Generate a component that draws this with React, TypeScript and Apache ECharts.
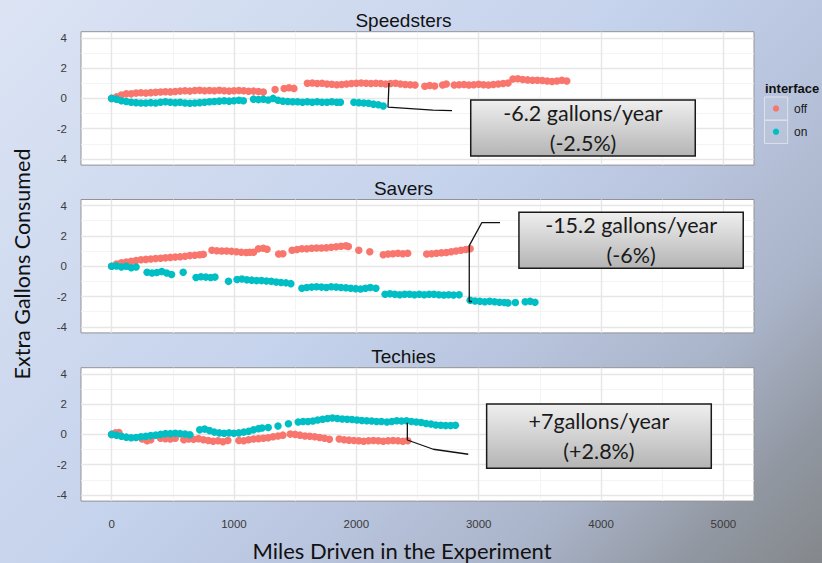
import { useEffect, useRef } from "react";
import * as echarts from "echarts";

// ---------- data ----------
const panelNames = ["Speedsters", "Savers", "Techies"];
const groupNames = ["off", "on"];
const groupColors = ["#F8766D", "#00BFC4"];
const xTicks = [0, 1000, 2000, 3000, 4000, 5000];
const xMinor = [500, 1500, 2500, 3500, 4500];
const yTicks = [-4, -2, 0, 2, 4];
const yMinor = [-3, -1, 1, 3];
const xTitle = "Miles Driven in the Experiment";
const yTitle = "Extra Gallons Consumed";
const legendTitle = "interface";

const speedstersOff: [number, number][] = [
  [0, 0], [40, 0.1], [80, 0.22], [120, 0.3], [160, 0.3], [200, 0.35], [240, 0.37], [280, 0.35], [320, 0.38], [360, 0.4],
  [400, 0.42], [440, 0.44], [480, 0.43], [520, 0.46], [560, 0.48], [600, 0.5], [640, 0.48], [680, 0.52], [720, 0.53], [760, 0.5],
  [800, 0.52], [840, 0.5], [880, 0.53], [920, 0.5], [960, 0.48], [1000, 0.5], [1040, 0.52], [1080, 0.5], [1120, 0.47], [1160, 0.48],
  [1200, 0.45], [1240, 0.42],
  [1336, 0.58],
  [1410, 0.65], [1450, 0.7], [1490, 0.66],
  [1600, 1.0], [1640, 1.02], [1680, 0.98], [1720, 1.0], [1760, 0.95], [1800, 0.93], [1840, 0.9], [1880, 0.92], [1920, 0.95], [1960, 0.98],
  [2000, 1.0], [2040, 1.02], [2080, 1.0], [2120, 0.98], [2160, 1.0], [2200, 0.98], [2240, 0.95], [2280, 0.98], [2320, 1.0], [2360, 0.95],
  [2400, 0.92], [2440, 0.9], [2480, 0.88],
  [2560, 0.8], [2600, 0.85], [2640, 0.82],
  [2705, 0.88], [2735, 0.95],
  [2800, 0.88], [2840, 0.9], [2880, 0.92], [2920, 0.88], [2960, 0.9], [3000, 0.93], [3040, 0.9], [3080, 0.88], [3120, 0.92], [3160, 0.95],
  [3200, 0.98], [3240, 1.02],
  [3280, 1.28], [3320, 1.3], [3360, 1.25], [3400, 1.22], [3440, 1.2], [3480, 1.2], [3520, 1.18], [3560, 1.15], [3600, 1.12], [3640, 1.15],
  [3680, 1.2], [3720, 1.15],
];

const speedstersOn: [number, number][] = [
  [0, 0], [40, -0.05], [80, -0.15], [120, -0.2], [160, -0.25], [200, -0.28], [240, -0.3], [280, -0.3], [320, -0.28], [360, -0.3],
  [400, -0.25], [440, -0.22], [480, -0.25], [520, -0.28], [560, -0.25], [600, -0.3], [640, -0.32], [680, -0.3], [720, -0.28], [760, -0.25],
  [800, -0.22], [840, -0.2], [880, -0.18], [920, -0.15], [960, -0.18], [1000, -0.15], [1040, -0.12],
  [1077, -0.15],
  [1160, -0.05], [1200, -0.08], [1240, -0.05], [1280, -0.1], [1320, 0.0], [1360, -0.12], [1400, -0.18], [1440, -0.2], [1480, -0.22], [1520, -0.22],
  [1560, -0.25], [1600, -0.22], [1640, -0.25], [1680, -0.22], [1720, -0.25], [1760, -0.25], [1800, -0.22], [1840, -0.25], [1870, -0.25],
  [1980, -0.25], [2020, -0.28], [2060, -0.3], [2100, -0.32], [2140, -0.38], [2180, -0.42], [2220, -0.5],
];

const saversOff: [number, number][] = [
  [0, 0.0], [40, 0.15], [80, 0.22], [120, 0.28], [160, 0.33], [200, 0.38], [240, 0.42], [280, 0.45], [320, 0.48], [360, 0.5],
  [400, 0.52], [440, 0.55], [480, 0.58], [520, 0.6], [560, 0.62], [600, 0.66], [640, 0.7], [680, 0.72], [720, 0.75], [750, 0.78],
  [820, 1.05], [860, 1.02], [900, 1.0], [940, 1.0], [980, 0.98], [1020, 0.95], [1060, 0.92],
  [1100, 0.9], [1130, 0.92], [1160, 0.92],
  [1200, 1.15], [1240, 1.18], [1270, 1.12],
  [1365, 0.8], [1400, 0.82],
  [1475, 1.05], [1515, 1.1], [1555, 1.15], [1595, 1.15], [1635, 1.18], [1675, 1.2], [1715, 1.2], [1755, 1.22], [1795, 1.25], [1835, 1.28],
  [1875, 1.32], [1915, 1.35], [1935, 1.3],
  [2020, 1.05], [2110, 0.95],
  [2220, 0.75], [2260, 0.8], [2300, 0.82], [2340, 0.85], [2380, 0.82], [2420, 0.85],
  [2575, 0.8], [2615, 0.82], [2655, 0.85], [2695, 0.88], [2735, 0.9], [2775, 0.95], [2815, 1.0], [2855, 1.05], [2895, 1.1], [2930, 1.15],
];

const saversOn: [number, number][] = [
  [0, 0.0], [40, 0.02], [80, -0.05], [120, 0.0], [160, -0.1], [200, -0.05],
  [290, -0.4], [330, -0.45], [370, -0.42], [410, -0.35], [450, -0.45], [490, -0.55],
  [585, -0.4],
  [690, -0.75], [730, -0.7], [770, -0.72], [810, -0.75], [845, -0.72],
  [955, -1.0],
  [1025, -0.88], [1065, -0.85], [1105, -0.9], [1145, -0.92], [1185, -0.95], [1225, -0.95], [1265, -0.98], [1305, -1.0], [1345, -1.05], [1385, -1.08],
  [1425, -1.1], [1465, -1.15],
  [1555, -1.45], [1595, -1.4], [1635, -1.38], [1675, -1.35], [1715, -1.38], [1755, -1.4], [1795, -1.35], [1835, -1.38], [1875, -1.4], [1915, -1.42],
  [1955, -1.45], [1995, -1.48], [2035, -1.5], [2075, -1.45], [2115, -1.4], [2160, -1.45],
  [2235, -1.85], [2275, -1.82], [2315, -1.85], [2355, -1.88], [2395, -1.85], [2435, -1.85], [2475, -1.88], [2515, -1.85], [2555, -1.88], [2595, -1.85],
  [2635, -1.85], [2675, -1.88], [2715, -1.9], [2755, -1.88], [2795, -1.9], [2840, -1.88],
  [2930, -2.25], [2970, -2.3], [3010, -2.32], [3050, -2.35], [3090, -2.32], [3130, -2.35], [3170, -2.38], [3210, -2.4], [3240, -2.42],
  [3300, -2.4],
  [3380, -2.35], [3420, -2.32], [3460, -2.38],
];

const techiesOff: [number, number][] = [
  [0, 0.0], [30, 0.1], [60, 0.12],
  [250, -0.3], [290, -0.42], [320, -0.35],
  [400, -0.25], [440, -0.28], [480, -0.3], [520, -0.25],
  [590, -0.35], [630, -0.3], [670, -0.32], [710, -0.28], [750, -0.35], [790, -0.4], [830, -0.45], [870, -0.42], [910, -0.48], [950, -0.4],
  [1040, -0.4], [1080, -0.42], [1120, -0.35], [1160, -0.3], [1200, -0.28], [1240, -0.25], [1280, -0.22], [1320, -0.15], [1360, -0.1], [1400, -0.05],
  [1460, 0.02], [1500, 0.0], [1540, -0.05], [1580, -0.1], [1620, -0.12], [1660, -0.15], [1700, -0.2], [1740, -0.25], [1780, -0.32],
  [1860, -0.3], [1900, -0.35], [1940, -0.38], [1980, -0.4], [2020, -0.42], [2060, -0.45], [2100, -0.42], [2140, -0.4], [2180, -0.42], [2220, -0.45],
  [2260, -0.42], [2300, -0.4], [2340, -0.42], [2380, -0.45], [2420, -0.42],
];

const techiesOn: [number, number][] = [
  [0, 0.0], [40, -0.05], [80, -0.12], [120, -0.18], [160, -0.22], [200, -0.2], [240, -0.15], [280, -0.12], [320, -0.08], [360, -0.05],
  [400, 0.0], [440, 0.05], [480, 0.05], [520, 0.08], [560, 0.05], [600, 0.02], [640, -0.02],
  [720, 0.3], [760, 0.35], [800, 0.25], [840, 0.15], [880, 0.1], [920, 0.08], [960, 0.1], [1000, 0.08], [1040, 0.1], [1080, 0.15],
  [1120, 0.2], [1160, 0.3], [1200, 0.38], [1230, 0.42],
  [1280, 0.45], [1360, 0.55], [1445, 0.7],
  [1525, 0.82], [1565, 0.85], [1605, 0.85], [1645, 0.88], [1685, 0.95], [1725, 1.0], [1765, 1.05], [1805, 1.08], [1845, 1.05], [1885, 1.02],
  [1925, 1.0], [1965, 0.98], [2005, 0.95], [2045, 0.92], [2085, 0.9], [2125, 0.88], [2165, 0.85], [2205, 0.85], [2250, 0.82],
  [2290, 0.85], [2330, 0.9], [2370, 0.88], [2410, 0.9], [2450, 0.85], [2490, 0.82], [2530, 0.78], [2570, 0.72], [2610, 0.68], [2650, 0.62],
  [2690, 0.6], [2730, 0.58], [2770, 0.58], [2810, 0.6],
];

const panelData = [
  [speedstersOff, speedstersOn],
  [saversOff, saversOn],
  [techiesOff, techiesOn],
];

const annotationTexts = [
  "-6.2 gallons/year\n(-2.5%)",
  "-15.2 gallons/year\n(-6%)",
  "+7gallons/year\n(+2.8%)",
];

// ---------- layout (data-coordinate placements of callouts) ----------
const boxCorners: [number, number][][] = [
  [[2935, -0.11], [4770, -3.8]],
  [[3329, 3.56], [5162, -0.13]],
  [[3065, 2.0], [4901, -2.23]],
];
const leaderPaths: [number, number][][] = [
  [[2267, 1.01], [2259, -0.57], [2626, -0.77], [2782, -0.81]],
  [[3174, 2.87], [3025, 2.87], [2923, 1.36], [2923, -2.33], [2945, -2.33]],
  [[2417, 0.77], [2417, -0.37], [2629, -0.98], [2915, -1.31]],
];

const GRID_LEFT = 81;
const GRID_WIDTH = 673;
const GRID_TOPS = [31.7, 199.5, 367.7];
const GRID_HEIGHT = 133.4;
const X_MIN = -250;
const X_MAX = 5250;
const Y_MIN = -4.4;
const Y_MAX = 4.4;

const TICK_FONT = "'Liberation Sans', Arial, sans-serif";
const TITLE_FONT = "Lato, 'Open Sans', sans-serif";

export default function App() {
  const ref = useRef<HTMLDivElement>(null);

  useEffect(() => {
    if (!ref.current) return;
    const chart = echarts.init(ref.current, undefined, { renderer: "svg" });

    const major = { color: "#e6e6e6", width: 1.4, type: "solid" as const };
    const minor = { color: "#f3f3f3", width: 0.9, type: "solid" as const };

    const gridLines = [
      ...xMinor.map((v) => ({ xAxis: v, lineStyle: minor })),
      ...yMinor.map((v) => ({ yAxis: v, lineStyle: minor })),
      ...xTicks.map((v) => ({ xAxis: v, lineStyle: major })),
      ...yTicks.map((v) => ({ yAxis: v, lineStyle: major })),
    ];

    const grids = GRID_TOPS.map((top) => ({
      left: GRID_LEFT,
      top,
      width: GRID_WIDTH,
      height: GRID_HEIGHT,
      show: true,
      backgroundColor: "#ffffff",
      borderColor: "#939393",
      borderWidth: 1,
      containLabel: false,
      outerBoundsMode: "none",
    }));

    const plain = (v: number) => String(v);

    const xAxes = GRID_TOPS.map((_, i) => ({
      type: "value",
      gridIndex: i,
      min: X_MIN,
      max: X_MAX,
      axisLine: { show: false },
      splitLine: { show: false },
      axisTick: {
        show: true,
        customValues: xTicks,
        length: 7,
        lineStyle: { color: "#333333", width: 1 },
      },
      axisLabel: {
        show: i === 2,
        customValues: xTicks,
        formatter: plain,
        margin: 17,
        color: "#3a3a3a",
        fontSize: 11.5,
        fontFamily: TICK_FONT,
      },
    }));

    const yAxes = GRID_TOPS.map((_, i) => ({
      type: "value",
      gridIndex: i,
      min: Y_MIN,
      max: Y_MAX,
      axisLine: { show: false },
      splitLine: { show: false },
      axisTick: {
        show: true,
        customValues: yTicks,
        length: 7,
        lineStyle: { color: "#333333", width: 1 },
      },
      axisLabel: {
        show: true,
        customValues: yTicks,
        formatter: plain,
        margin: 14,
        color: "#3a3a3a",
        fontSize: 11.5,
        fontFamily: TICK_FONT,
      },
    }));

    const boxFill = new echarts.graphic.LinearGradient(0, 0, 0, 1, [
      { offset: 0, color: "#efefef" },
      { offset: 1, color: "#b4b4b4" },
    ]);

    const series: any[] = [];
    panelData.forEach((groups, p) => {
      groups.forEach((pts, g) => {
        series.push({
          type: "scatter",
          name: groupNames[g],
          xAxisIndex: p,
          yAxisIndex: p,
          data: pts,
          symbol: "circle",
          symbolSize: 7.5,
          itemStyle: { color: groupColors[g], opacity: 1 },
          z: 3,
          silent: true,
          ...(g === 0
            ? {
                markLine: {
                  silent: true,
                  symbol: "none",
                  z: 1,
                  label: { show: false },
                  animation: false,
                  data: gridLines,
                },
              }
            : {}),
        });
      });
      series.push({
        type: "line",
        xAxisIndex: p,
        yAxisIndex: p,
        data: leaderPaths[p],
        showSymbol: false,
        symbol: "none",
        silent: true,
        z: 5,
        lineStyle: { color: "#111111", width: 1.3 },
        markArea: {
          silent: true,
          z: 4,
          animation: false,
          itemStyle: {
            color: boxFill,
            borderColor: "#1a1a1a",
            borderWidth: 1.5,
          },
          label: {
            show: true,
            position: "inside",
            formatter: annotationTexts[p],
            color: "#1a1a1a",
            fontFamily: TITLE_FONT,
            fontSize: 21.5,
            lineHeight: 30,
          },
          data: [[{ coord: boxCorners[p][0] }, { coord: boxCorners[p][1] }]],
        },
      });
    });

    const graphics: any[] = [];
    panelNames.forEach((name, i) => {
      graphics.push({
        type: "text",
        x: 403.5,
        y: GRID_TOPS[i] - 11.5,
        style: {
          text: name,
          fill: "#111111",
          font: `19px ${TICK_FONT}`,
          align: "center",
          verticalAlign: "middle",
          textAlign: "center",
          textVerticalAlign: "middle",
        },
      });
    });
    graphics.push({
      type: "text",
      x: 402,
      y: 550,
      style: {
        text: xTitle,
        fill: "#111111",
        font: `22px ${TITLE_FONT}`,
        align: "center",
        verticalAlign: "middle",
        textAlign: "center",
        textVerticalAlign: "middle",
      },
    });
    graphics.push({
      type: "text",
      x: 22,
      y: 264,
      rotation: Math.PI / 2,
      style: {
        text: yTitle,
        fill: "#111111",
        font: `21.5px ${TITLE_FONT}`,
        align: "center",
        verticalAlign: "middle",
        textAlign: "center",
        textVerticalAlign: "middle",
      },
    });
    // legend
    graphics.push({
      type: "text",
      x: 765,
      y: 88,
      style: {
        text: legendTitle,
        fill: "#111111",
        font: `bold 13px ${TICK_FONT}`,
        align: "left",
        verticalAlign: "middle",
        textAlign: "left",
        textVerticalAlign: "middle",
      },
    });
    groupNames.forEach((name, g) => {
      const top = 97 + g * 23.2;
      graphics.push({
        type: "rect",
        shape: { x: 764.5, y: top, width: 23.2, height: 23.2 },
        style: { fill: "rgba(255,255,255,0.06)", stroke: "rgba(225,228,235,0.9)", lineWidth: 1 },
      });
      graphics.push({
        type: "circle",
        shape: { cx: 776, cy: top + 11.6, r: 3.2 },
        style: { fill: groupColors[g] },
      });
      graphics.push({
        type: "text",
        x: 794,
        y: top + 12,
        style: {
          text: name,
          fill: "#1a1a1a",
          font: `12px ${TICK_FONT}`,
          align: "left",
          verticalAlign: "middle",
          textAlign: "left",
          textVerticalAlign: "middle",
        },
      });
    });

    chart.setOption({
      animation: false,
      backgroundColor: "transparent",
      grid: grids,
      xAxis: xAxes,
      yAxis: yAxes,
      series,
      graphic: graphics,
    });

    return () => chart.dispose();
  }, []);

  return (
    <div
      ref={ref}
      style={{
        position: "fixed",
        left: 0,
        top: 0,
        width: 822,
        height: 563,
        background:
          "linear-gradient(135deg, #dce4f4 0%, #c6d3ec 45%, #b9c5de 62%, #a9b3c8 78%, #9197a1 90%, #84888c 100%)",
      }}
    />
  );
}
